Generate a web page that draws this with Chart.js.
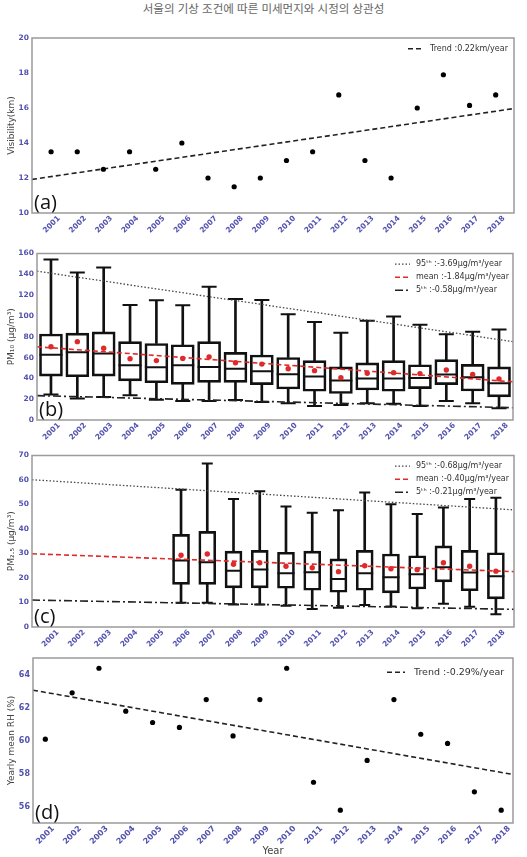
<!DOCTYPE html>
<html lang="ko">
<head>
<meta charset="utf-8">
<title>서울의 기상 조건에 따른 미세먼지와 시정의 상관성</title>
<script src="https://cdn.jsdelivr.net/npm/chart.js@4.4.1/dist/chart.umd.min.js"></script>
<style>
  html, body { margin: 0; padding: 0; background: #fff; }
  body { width: 527px; height: 857px; position: relative; overflow: hidden; }
  .page-title {
    position: absolute; left: 0; top: 0; width: 527px; text-align: center;
    font: 11.5px "Noto Sans CJK KR", sans-serif; color: #666; line-height: 16px;
  }
  .panel { position: absolute; left: 0; }
  .panel canvas { display: block; }
</style>
</head>
<body>
<div class="page-title">서울의 기상 조건에 따른 미세먼지와 시정의 상관성</div>
<div class="panel" style="top:28px"><canvas id="visChart" width="527" height="212"></canvas></div>
<div class="panel" style="top:240px"><canvas id="pm10Chart" width="527" height="205"></canvas></div>
<div class="panel" style="top:445px"><canvas id="pm25Chart" width="527" height="205"></canvas></div>
<div class="panel" style="top:650px"><canvas id="rhChart" width="527" height="207"></canvas></div>
<script>
(function () {
  // ---- data ----
  const years = [2001, 2002, 2003, 2004, 2005, 2006, 2007, 2008, 2009, 2010, 2011, 2012, 2013, 2014, 2015, 2016, 2017, 2018];

  // (a) yearly visibility
  const visibilityKm = [13.5, 13.5, 12.5, 13.5, 12.5, 14.0, 12.0, 11.5, 12.0, 13.0, 13.5, 16.75, 13.0, 12.0, 16.0, 17.9, 16.15, 16.75];
  const visXRange = [2000.27, 2018.7];
  const visTrendEnds = [11.92, 15.97];
  const visTicks = [10, 12, 14, 16, 18, 20];

  // (b) PM10 box plots
  const pm10Max = [154.3, 141.8, 146.6, 110.5, 115.1, 110.2, 128.1, 116.3, 115.4, 101.7, 94.1, 83.8, 95.3, 99.4, 91.5, 82.5, 84.8, 86.9];
  const pm10Q3 = [82.6, 83.5, 84.7, 75.3, 73.5, 72.3, 75.3, 65.0, 62.5, 60.1, 57.1, 51.0, 54.9, 57.1, 53.1, 58.0, 53.4, 51.0];
  const pm10Median = [62.8, 65.0, 63.8, 52.5, 50.7, 52.5, 51.0, 49.2, 46.8, 44.0, 41.9, 37.9, 39.8, 39.8, 40.4, 43.7, 41.0, 35.2];
  const pm10Q1 = [42.2, 41.6, 42.2, 37.6, 35.8, 34.3, 36.1, 36.1, 34.0, 29.8, 27.6, 25.5, 28.8, 27.6, 30.1, 34.0, 27.9, 22.2];
  const pm10Min = [24.6, 20.6, 22.2, 23.7, 19.4, 18.2, 18.2, 19.1, 17.3, 16.1, 13.4, 14.3, 16.1, 15.5, 13.4, 18.2, 16.1, 11.2];
  const pm10Mean = [70.4, 75.3, 68.9, 58.9, 57.1, 59.2, 60.7, 55.0, 53.7, 49.2, 47.4, 40.7, 44.9, 45.5, 44.6, 48.0, 43.7, 39.5];
  const pm10XRange = [2000.47, 2018.53];
  const pm10P95Ends = [143.0, 75.3];
  const pm10MeanEnds = [70.4, 36.7];
  const pm10P5Ends = [23.4, 11.8];
  const pm10Ticks = [0, 20, 40, 60, 80, 100, 120, 140, 160];

  // (c) PM2.5 box plots (from 2006)
  const pm25Years = [2006, 2007, 2008, 2009, 2010, 2011, 2012, 2013, 2014, 2015, 2016, 2017, 2018];
  const pm25Max = [56.0, 66.7, 52.2, 55.4, 49.2, 46.6, 47.7, 54.9, 50.1, 46.1, 48.8, 52.2, 52.8];
  const pm25Q3 = [37.8, 39.0, 31.0, 31.3, 30.5, 31.0, 27.8, 31.3, 29.8, 29.1, 33.1, 31.3, 30.3];
  const pm25Median = [27.1, 26.4, 23.0, 23.5, 21.9, 22.3, 19.6, 21.9, 20.3, 21.5, 24.4, 22.2, 20.7];
  const pm25Q1 = [17.4, 17.4, 16.0, 16.0, 15.8, 15.0, 14.2, 15.0, 13.9, 15.5, 18.4, 14.8, 11.5];
  const pm25Min = [9.9, 9.9, 9.2, 9.2, 8.7, 7.3, 7.9, 9.0, 8.4, 7.7, 9.5, 8.3, 5.2];
  const pm25Mean = [29.3, 29.8, 25.6, 26.2, 24.8, 24.2, 22.6, 25.0, 23.8, 23.4, 26.2, 24.8, 22.8];
  const pm25XRange = [2000.32, 2018.69];
  const pm25P95Ends = [60.1, 47.8];
  const pm25MeanEnds = [29.9, 22.6];
  const pm25P5Ends = [11.0, 7.2];
  const pm25Ticks = [0, 10, 20, 30, 40, 50, 60, 70];

  // (d) yearly mean relative humidity
  const rhMean = [60.08, 62.89, 64.38, 61.78, 61.09, 60.79, 62.48, 60.28, 62.48, 64.38, 57.47, 55.78, 58.79, 62.48, 60.38, 59.82, 56.89, 55.78];
  const rhXRange = [2000.54, 2018.44];
  const rhTrendEnds = [63.05, 57.94];
  const rhTicks = [56, 58, 60, 62, 64];

  // ---- styles ----
  const tickColor = '#5252b0';
  const frameColor = '#9a9a9a';
  const titleColor = '#444';
  const boxColor = '#111';
  const meanRed = '#e02a2a';

  const trendStyle = { color: '#222', dash: [5, 3], width: 1.6 };
  const p95Style = { color: '#444', dash: [1.5, 2], width: 1.3 };
  const meanStyle = { color: meanRed, dash: [5, 3], width: 1.6 };
  const p5Style = { color: '#222', dash: [8, 3, 2, 3], width: 1.6 };

  // frame, panel letter and in-plot legend
  const panelDecor = {
    id: 'panelDecor',
    afterDraw(chart, args, opts) {
      const { ctx, chartArea: area } = chart;
      ctx.save();
      ctx.strokeStyle = frameColor;
      ctx.lineWidth = 1.5;
      ctx.strokeRect(area.left, area.top, area.right - area.left, area.bottom - area.top);

      if (opts.letter) {
        ctx.fillStyle = '#111';
        ctx.font = '20px "Open Sans", sans-serif';
        ctx.textBaseline = 'alphabetic';
        ctx.fillText(opts.letter, area.left + 2, area.bottom - 4);
      }

      const lg = opts.legend;
      if (lg) {
        ctx.font = `${lg.fontSize}px "DejaVu Sans", sans-serif`;
        ctx.textBaseline = 'middle';
        lg.items.forEach((item, i) => {
          const y = area.top + lg.top + i * lg.rowGap;
          const x0 = area.right - lg.right;
          ctx.beginPath();
          ctx.setLineDash(item.style.dash);
          ctx.strokeStyle = item.style.color;
          ctx.lineWidth = item.style.width;
          ctx.moveTo(x0, y);
          ctx.lineTo(x0 + lg.lineLen, y);
          ctx.stroke();
          ctx.setLineDash([]);
          ctx.fillStyle = '#333';
          ctx.fillText(item.text, x0 + lg.lineLen + lg.textGap, y);
        });
      }
      ctx.restore();
    }
  };
  Chart.register(panelDecor);

  function yearAxis(range, axisHeight, fontSize, title) {
    return {
      type: 'linear',
      min: range[0],
      max: range[1],
      offset: false,
      grid: { display: false, drawTicks: false },
      border: { display: false },
      afterBuildTicks: (axis) => { axis.ticks = years.map((v) => ({ value: v })); },
      afterFit: (axis) => { axis.height = axisHeight; },
      ticks: {
        color: tickColor,
        font: { family: 'DejaVu Sans', size: fontSize, weight: 'bold' },
        minRotation: 45,
        maxRotation: 45,
        autoSkip: false,
        padding: 1,
        labelOffset: 8,
        callback: (v) => String(v)
      },
      title: title
        ? { display: true, text: title, color: titleColor, font: { family: 'DejaVu Sans', size: 10 }, padding: { top: 0, bottom: 0 } }
        : { display: false }
    };
  }

  function valueAxis(min, max, tickValues, title, axisWidth, fontSize) {
    return {
      min,
      max,
      grid: { display: false, drawTicks: false },
      border: { display: false },
      afterBuildTicks: (axis) => { axis.ticks = tickValues.map((v) => ({ value: v })); },
      afterFit: (axis) => { axis.width = axisWidth; },
      ticks: {
        color: tickColor,
        font: { family: 'DejaVu Sans', size: fontSize, weight: 'bold' },
        padding: 3,
        callback: (v) => String(v)
      },
      title: {
        display: true,
        text: title,
        color: titleColor,
        font: { family: 'DejaVu Sans', size: 9 },
        padding: { top: 6, bottom: 0 }
      }
    };
  }

  function trendLine(range, ends, style) {
    return {
      type: 'line',
      data: [{ x: range[0], y: ends[0] }, { x: range[1], y: ends[1] }],
      borderColor: style.color,
      borderDash: style.dash,
      borderWidth: style.width,
      pointRadius: 0,
      fill: false
    };
  }

  function dots(xs, values, color, radius) {
    return {
      type: 'scatter',
      data: xs.map((x, i) => ({ x, y: values[i] })),
      backgroundColor: color,
      borderWidth: 0,
      pointRadius: radius
    };
  }

  function hLines(xs, values, halfWidth) {
    return {
      type: 'scatter',
      data: xs.map((x, i) => ({ x, y: values[i] })),
      pointStyle: 'line',
      pointRadius: halfWidth,
      borderColor: boxColor,
      borderWidth: 2
    };
  }

  function floatBars(xs, lo, hi, width, filled) {
    return {
      type: 'bar',
      data: xs.map((x, i) => ({ x, y: [lo[i], hi[i]] })),
      grouped: false,
      barPercentage: 1,
      categoryPercentage: 1,
      maxBarThickness: width,
      backgroundColor: filled ? boxColor : 'rgba(0,0,0,0)',
      borderColor: boxColor,
      borderWidth: filled ? 0 : 2,
      borderSkipped: false
    };
  }

  function boxPlotDatasets(xs, s, boxWidth, capHalf) {
    return [
      dots(xs, s.mean, meanRed, 2.7),
      trendLine(s.range, s.meanEnds, meanStyle),
      trendLine(s.range, s.p95Ends, p95Style),
      trendLine(s.range, s.p5Ends, p5Style),
      hLines(xs, s.median, boxWidth / 2),
      hLines(xs, s.max, capHalf),
      hLines(xs, s.min, capHalf),
      floatBars(xs, s.q3, s.max, 2, true),
      floatBars(xs, s.min, s.q1, 2, true),
      floatBars(xs, s.q1, s.q3, boxWidth, false)
    ];
  }

  const baseOptions = {
    responsive: false,
    animation: false,
    events: [],
    plugins: { legend: { display: false }, tooltip: { enabled: false } }
  };

  // (a)
  new Chart(document.getElementById('visChart'), {
    type: 'scatter',
    data: {
      datasets: [
        dots(years, visibilityKm, '#000', 2.6),
        trendLine(visXRange, visTrendEnds, trendStyle)
      ]
    },
    options: {
      ...baseOptions,
      layout: { padding: { top: 10, right: 13, left: 0, bottom: 0 } },
      scales: {
        x: yearAxis(visXRange, 27, 7.5),
        y: valueAxis(10, 20, visTicks, 'Visibility(km)', 32, 7.5)
      },
      plugins: {
        ...baseOptions.plugins,
        panelDecor: {
          letter: '(a)',
          legend: { top: 10.7, right: 106, rowGap: 13, lineLen: 15, textGap: 7, fontSize: 8,
            items: [{ text: 'Trend :0.22km/year', style: trendStyle }] }
        }
      }
    }
  });

  // (b)
  new Chart(document.getElementById('pm10Chart'), {
    type: 'bar',
    data: {
      datasets: boxPlotDatasets(years, {
        max: pm10Max, q3: pm10Q3, median: pm10Median, q1: pm10Q1, min: pm10Min, mean: pm10Mean,
        range: pm10XRange, p95Ends: pm10P95Ends, meanEnds: pm10MeanEnds, p5Ends: pm10P5Ends
      }, 23, 7.5)
    },
    options: {
      ...baseOptions,
      layout: { padding: { top: 4, right: 14, left: 0, bottom: 0 } },
      scales: {
        x: yearAxis(pm10XRange, 25, 7.5),
        y: valueAxis(0, 160, pm10Ticks, 'PM₁₀ (μg/m³)', 37, 7.5)
      },
      plugins: {
        ...baseOptions.plugins,
        panelDecor: {
          letter: '(b)',
          legend: { top: 10.7, right: 118, rowGap: 13, lineLen: 15, textGap: 6, fontSize: 8,
            items: [
              { text: '95ᵗʰ :-3.69μg/m³/year', style: p95Style },
              { text: 'mean :-1.84μg/m³/year', style: meanStyle },
              { text: '5ᵗʰ :-0.58μg/m³/year', style: p5Style }
            ] }
        }
      }
    }
  });

  // (c)
  new Chart(document.getElementById('pm25Chart'), {
    type: 'bar',
    data: {
      datasets: boxPlotDatasets(pm25Years, {
        max: pm25Max, q3: pm25Q3, median: pm25Median, q1: pm25Q1, min: pm25Min, mean: pm25Mean,
        range: pm25XRange, p95Ends: pm25P95Ends, meanEnds: pm25MeanEnds, p5Ends: pm25P5Ends
      }, 17, 5.5)
    },
    options: {
      ...baseOptions,
      layout: { padding: { top: 6, right: 13, left: 0, bottom: 0 } },
      scales: {
        x: yearAxis(pm25XRange, 23, 7.5),
        y: valueAxis(0, 70, pm25Ticks, 'PM₂.₅ (μg/m³)', 32, 7.5)
      },
      plugins: {
        ...baseOptions.plugins,
        panelDecor: {
          letter: '(c)',
          legend: { top: 10.7, right: 119, rowGap: 13, lineLen: 15, textGap: 6, fontSize: 8,
            items: [
              { text: '95ᵗʰ :-0.68μg/m³/year', style: p95Style },
              { text: 'mean :-0.40μg/m³/year', style: meanStyle },
              { text: '5ᵗʰ :-0.21μg/m³/year', style: p5Style }
            ] }
        }
      }
    }
  });

  // (d)
  new Chart(document.getElementById('rhChart'), {
    type: 'scatter',
    data: {
      datasets: [
        dots(years, rhMean, '#000', 2.6),
        trendLine(rhXRange, rhTrendEnds, trendStyle)
      ]
    },
    options: {
      ...baseOptions,
      layout: { padding: { top: 8, right: 14, left: 0, bottom: 0 } },
      scales: {
        x: yearAxis(rhXRange, 34, 8, 'Year'),
        y: valueAxis(55, 65, rhTicks, 'Yearly mean RH (%)', 33, 8)
      },
      plugins: {
        ...baseOptions.plugins,
        panelDecor: {
          letter: '(d)',
          legend: { top: 14.3, right: 126, rowGap: 13, lineLen: 18, textGap: 9, fontSize: 9.5,
            items: [{ text: 'Trend :-0.29%/year', style: trendStyle }] }
        }
      }
    }
  });
})();
</script>
</body>
</html>
